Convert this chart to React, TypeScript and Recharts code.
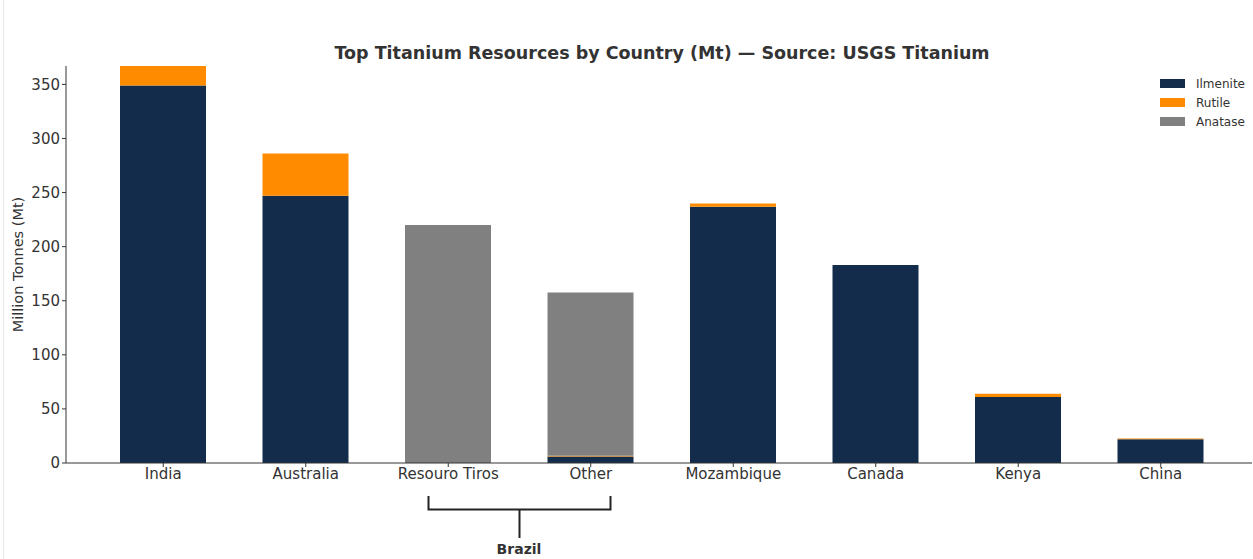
import React from 'react';
import { BarChart, Bar, XAxis, YAxis } from 'recharts';

const categories = ['India', 'Australia', 'Resouro Tiros', 'Other', 'Mozambique', 'Canada', 'Kenya', 'China'];
const ilmenite = [349, 247, 0, 6, 237, 183, 61, 22];
const rutile = [18, 39, 0, 0.6, 3, 0, 3, 0.6];
const anatase = [0, 0, 220, 151, 0, 0, 0, 0];
const yTicks = [0, 50, 100, 150, 200, 250, 300, 350];

const seriesNames = ['Ilmenite', 'Rutile', 'Anatase'];
const seriesColors = ['#132c4c', '#ff8c00', '#808080'];

const data = categories.map((c, i) => ({
  name: c,
  ilmenite: ilmenite[i],
  rutile: rutile[i],
  anatase: anatase[i],
}));

const W = 1253;
const H = 559;
const FONT = '"DejaVu Sans", sans-serif';

// x tick: label below, small tick mark pointing up into the plot
function XTick(props: any) {
  const { x, y, payload } = props;
  return (
    <g>
      <line x1={x} x2={x} y1={y - 8} y2={y - 4} stroke="#333" strokeWidth={1} />
      <text x={x} y={y + 8} textAnchor="middle" fontSize={15} fill="#333" fontFamily={FONT}>
        {payload.value}
      </text>
    </g>
  );
}

function LegendBox() {
  return (
    <div style={{ position: 'absolute', top: 74, left: 1160, fontFamily: FONT, fontSize: 12, color: '#333' }}>
      {seriesNames.map((n, i) => (
        <div key={n} style={{ display: 'flex', alignItems: 'center', height: 19 }}>
          <span style={{ width: 25, height: 9, background: seriesColors[i], display: 'inline-block', marginRight: 11 }} />
          <span>{n}</span>
        </div>
      ))}
    </div>
  );
}

export default function App() {
  return (
    <div style={{ position: 'relative', width: W, height: H, background: '#fff' }}>
      <style>{`body{margin:0}`}</style>
      <BarChart width={W} height={H} data={data} margin={{ top: 66, right: 1, bottom: 66, left: 0 }} barSize={86}>
        <XAxis
          dataKey="name"
          height={30}
          padding={{ left: 26, right: 20 }}
          tickLine={false}
          axisLine={{ stroke: '#333', strokeWidth: 1 }}
          tick={<XTick />}
          interval={0}
        />
        <YAxis
          width={66}
          domain={[0, 367]}
          ticks={yTicks}
          tickSize={4}
          tickLine={{ stroke: '#333' }}
          axisLine={{ stroke: '#333', strokeWidth: 1 }}
          tick={{ fontSize: 15, fill: '#333', fontFamily: FONT }}
          label={{
            value: 'Million Tonnes (Mt)',
            angle: -90,
            position: 'insideLeft',
            offset: 18,
            style: { fontSize: 14.5, fill: '#333', fontFamily: FONT, textAnchor: 'middle' },
          }}
        />
        <Bar dataKey="ilmenite" stackId="a" fill={seriesColors[0]} name="Ilmenite" isAnimationActive={false} />
        <Bar dataKey="rutile" stackId="a" fill={seriesColors[1]} name="Rutile" isAnimationActive={false} />
        <Bar dataKey="anatase" stackId="a" fill={seriesColors[2]} name="Anatase" isAnimationActive={false} />
      </BarChart>
      <LegendBox />
      <svg width={W} height={H} style={{ position: 'absolute', left: 0, top: 0, pointerEvents: 'none' }}>
        <line x1={3.5} x2={3.5} y1={0} y2={H} stroke="#e8e8e8" strokeWidth={1} />
        <text x={662} y={59} textAnchor="middle" fontSize={17.5} fontWeight="bold" fill="#333" fontFamily={FONT}>
          Top Titanium Resources by Country (Mt) — Source: USGS Titanium
        </text>
        <path d="M428.5 496 V509.5 H610.5 V496" fill="none" stroke="#222" strokeWidth={2} />
        <line x1={519.5} x2={519.5} y1={509} y2={538} stroke="#222" strokeWidth={2} />
        <text x={519} y={554} textAnchor="middle" fontSize={14} fontWeight="bold" fill="#333" fontFamily={FONT}>
          Brazil
        </text>
      </svg>
    </div>
  );
}
